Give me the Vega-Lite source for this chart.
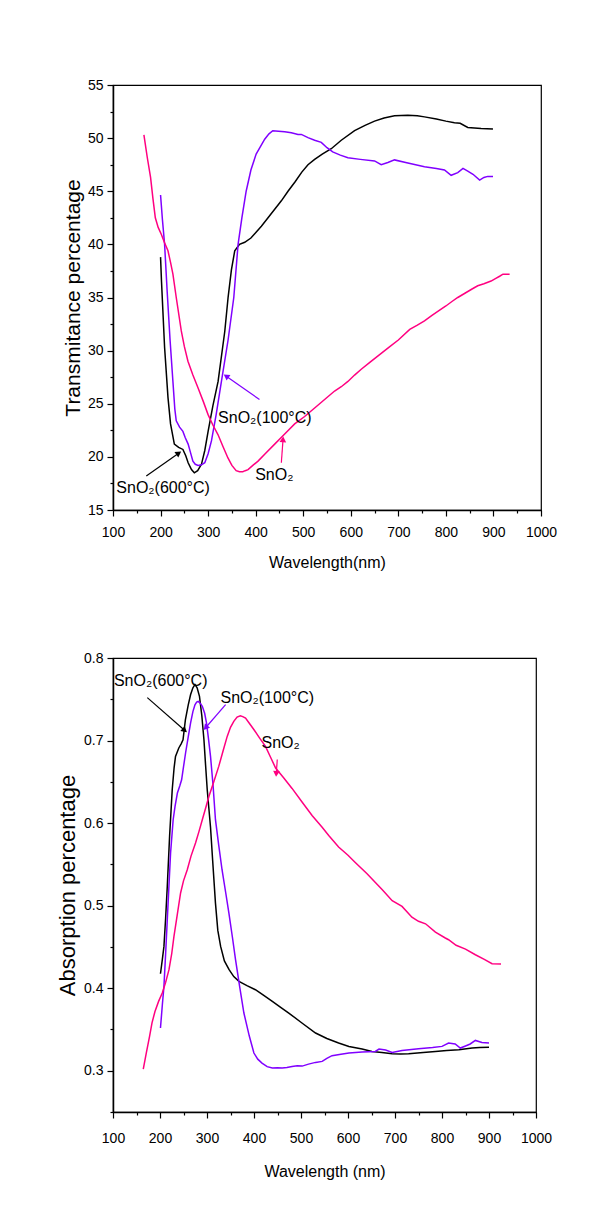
{
  "$schema": "https://vega.github.io/schema/vega-lite/v6.json",
  "background": "white",
  "padding": {"left": 55, "top": 77, "right": 5, "bottom": 5},
  "spacing": 79,
  "config": {
    "view": {"stroke": "black", "strokeWidth": 1.2},
    "axis": {
      "grid": false,
      "domainColor": "black",
      "domainWidth": 1.5,
      "tickColor": "black",
      "tickWidth": 1.2,
      "labelFont": "Liberation Sans Narrow, Arial Narrow, Liberation Sans, Arial",
      "labelFontSize": 14,
      "labelColor": "black",
      "titleFont": "Liberation Sans, Arial",
      "titleFontWeight": "normal",
      "titleColor": "black"
    }
  },
  "datasets": {
    "trans": [
      {"s": "600", "wl": 200, "v": 38.8}, {"s": "600", "wl": 202, "v": 36.5}, {"s": "600", "wl": 208.5, "v": 30.3}, {"s": "600", "wl": 215.6, "v": 25.6}, {"s": "600", "wl": 221, "v": 23.1}, {"s": "600", "wl": 229, "v": 21.2}, {"s": "600", "wl": 238, "v": 20.9}, {"s": "600", "wl": 247, "v": 20.7}, {"s": "600", "wl": 253, "v": 20.1}, {"s": "600", "wl": 258, "v": 19.45}, {"s": "600", "wl": 265, "v": 18.8}, {"s": "600", "wl": 271, "v": 18.5}, {"s": "600", "wl": 278, "v": 18.7}, {"s": "600", "wl": 286, "v": 19.3}, {"s": "600", "wl": 293, "v": 20.6}, {"s": "600", "wl": 300, "v": 22.4}, {"s": "600", "wl": 310, "v": 24.8}, {"s": "600", "wl": 321, "v": 27.1}, {"s": "600", "wl": 335, "v": 31.8}, {"s": "600", "wl": 342, "v": 35.0}, {"s": "600", "wl": 349, "v": 37.6}, {"s": "600", "wl": 356, "v": 39.4}, {"s": "600", "wl": 366, "v": 40.0}, {"s": "600", "wl": 377, "v": 40.2}, {"s": "600", "wl": 390, "v": 40.6}, {"s": "600", "wl": 398, "v": 41.0}, {"s": "600", "wl": 412, "v": 41.7}, {"s": "600", "wl": 426, "v": 42.5}, {"s": "600", "wl": 440, "v": 43.3}, {"s": "600", "wl": 454, "v": 44.1}, {"s": "600", "wl": 468, "v": 45.0}, {"s": "600", "wl": 483, "v": 45.9}, {"s": "600", "wl": 497, "v": 46.8}, {"s": "600", "wl": 510, "v": 47.5}, {"s": "600", "wl": 524, "v": 48.0}, {"s": "600", "wl": 540, "v": 48.5}, {"s": "600", "wl": 559, "v": 49.0}, {"s": "600", "wl": 580, "v": 49.8}, {"s": "600", "wl": 608, "v": 50.7}, {"s": "600", "wl": 630, "v": 51.2}, {"s": "600", "wl": 650, "v": 51.6}, {"s": "600", "wl": 670, "v": 51.9}, {"s": "600", "wl": 692, "v": 52.1}, {"s": "600", "wl": 720, "v": 52.15}, {"s": "600", "wl": 740, "v": 52.1}, {"s": "600", "wl": 755, "v": 52.0}, {"s": "600", "wl": 780, "v": 51.8}, {"s": "600", "wl": 800, "v": 51.6}, {"s": "600", "wl": 818, "v": 51.45}, {"s": "600", "wl": 830, "v": 51.4}, {"s": "600", "wl": 846, "v": 51.0}, {"s": "600", "wl": 860, "v": 50.95}, {"s": "600", "wl": 874, "v": 50.9}, {"s": "600", "wl": 899, "v": 50.85},
      {"s": "100", "wl": 200, "v": 44.65}, {"s": "100", "wl": 204, "v": 42.3}, {"s": "100", "wl": 208.5, "v": 40.0}, {"s": "100", "wl": 214, "v": 35.5}, {"s": "100", "wl": 220, "v": 31.0}, {"s": "100", "wl": 226, "v": 27.1}, {"s": "100", "wl": 230, "v": 24.5}, {"s": "100", "wl": 233, "v": 23.4}, {"s": "100", "wl": 240, "v": 22.8}, {"s": "100", "wl": 247, "v": 22.4}, {"s": "100", "wl": 252, "v": 21.8}, {"s": "100", "wl": 258, "v": 21.2}, {"s": "100", "wl": 263, "v": 20.4}, {"s": "100", "wl": 268, "v": 19.6}, {"s": "100", "wl": 273, "v": 19.3}, {"s": "100", "wl": 279, "v": 19.2}, {"s": "100", "wl": 286, "v": 19.25}, {"s": "100", "wl": 293, "v": 19.45}, {"s": "100", "wl": 300, "v": 20.3}, {"s": "100", "wl": 307, "v": 21.5}, {"s": "100", "wl": 317, "v": 24.0}, {"s": "100", "wl": 328, "v": 27.1}, {"s": "100", "wl": 342, "v": 31.0}, {"s": "100", "wl": 354, "v": 35.0}, {"s": "100", "wl": 363, "v": 40.0}, {"s": "100", "wl": 371, "v": 42.5}, {"s": "100", "wl": 380, "v": 45.0}, {"s": "100", "wl": 390, "v": 47.0}, {"s": "100", "wl": 401, "v": 48.5}, {"s": "100", "wl": 410, "v": 49.2}, {"s": "100", "wl": 419, "v": 49.9}, {"s": "100", "wl": 428, "v": 50.4}, {"s": "100", "wl": 436, "v": 50.7}, {"s": "100", "wl": 448, "v": 50.65}, {"s": "100", "wl": 461, "v": 50.6}, {"s": "100", "wl": 475, "v": 50.5}, {"s": "100", "wl": 489, "v": 50.35}, {"s": "100", "wl": 496, "v": 50.35}, {"s": "100", "wl": 510, "v": 50.05}, {"s": "100", "wl": 524, "v": 49.8}, {"s": "100", "wl": 538, "v": 49.6}, {"s": "100", "wl": 550, "v": 49.1}, {"s": "100", "wl": 562, "v": 48.7}, {"s": "100", "wl": 578, "v": 48.4}, {"s": "100", "wl": 594, "v": 48.15}, {"s": "100", "wl": 620, "v": 48.0}, {"s": "100", "wl": 650, "v": 47.85}, {"s": "100", "wl": 664, "v": 47.5}, {"s": "100", "wl": 678, "v": 47.7}, {"s": "100", "wl": 692, "v": 47.95}, {"s": "100", "wl": 720, "v": 47.65}, {"s": "100", "wl": 755, "v": 47.3}, {"s": "100", "wl": 780, "v": 47.15}, {"s": "100", "wl": 797, "v": 47.0}, {"s": "100", "wl": 811, "v": 46.5}, {"s": "100", "wl": 825, "v": 46.75}, {"s": "100", "wl": 836, "v": 47.15}, {"s": "100", "wl": 846, "v": 46.9}, {"s": "100", "wl": 857, "v": 46.6}, {"s": "100", "wl": 871, "v": 46.05}, {"s": "100", "wl": 880, "v": 46.3}, {"s": "100", "wl": 888, "v": 46.4}, {"s": "100", "wl": 899, "v": 46.4},
      {"s": "pure", "wl": 165, "v": 50.3}, {"s": "pure", "wl": 172, "v": 48.2}, {"s": "pure", "wl": 179, "v": 46.3}, {"s": "pure", "wl": 184, "v": 44.3}, {"s": "pure", "wl": 189, "v": 42.5}, {"s": "pure", "wl": 195, "v": 41.6}, {"s": "pure", "wl": 201.5, "v": 40.95}, {"s": "pure", "wl": 208, "v": 40.2}, {"s": "pure", "wl": 215.6, "v": 39.4}, {"s": "pure", "wl": 221, "v": 38.3}, {"s": "pure", "wl": 226, "v": 37.2}, {"s": "pure", "wl": 233, "v": 35.0}, {"s": "pure", "wl": 243.6, "v": 31.85}, {"s": "pure", "wl": 250, "v": 30.4}, {"s": "pure", "wl": 257.6, "v": 29.0}, {"s": "pure", "wl": 268, "v": 27.7}, {"s": "pure", "wl": 278.7, "v": 26.5}, {"s": "pure", "wl": 290, "v": 25.2}, {"s": "pure", "wl": 299.7, "v": 24.0}, {"s": "pure", "wl": 310, "v": 23.0}, {"s": "pure", "wl": 320.7, "v": 22.1}, {"s": "pure", "wl": 331, "v": 21.0}, {"s": "pure", "wl": 341.7, "v": 19.9}, {"s": "pure", "wl": 350, "v": 19.2}, {"s": "pure", "wl": 359, "v": 18.7}, {"s": "pure", "wl": 366, "v": 18.6}, {"s": "pure", "wl": 373, "v": 18.6}, {"s": "pure", "wl": 378, "v": 18.7}, {"s": "pure", "wl": 384, "v": 18.8}, {"s": "pure", "wl": 394, "v": 19.2}, {"s": "pure", "wl": 405, "v": 19.6}, {"s": "pure", "wl": 420, "v": 20.3}, {"s": "pure", "wl": 440, "v": 21.2}, {"s": "pure", "wl": 460, "v": 22.1}, {"s": "pure", "wl": 482, "v": 23.1}, {"s": "pure", "wl": 503, "v": 23.8}, {"s": "pure", "wl": 524, "v": 24.6}, {"s": "pure", "wl": 545, "v": 25.4}, {"s": "pure", "wl": 566, "v": 26.2}, {"s": "pure", "wl": 580, "v": 26.6}, {"s": "pure", "wl": 594, "v": 27.1}, {"s": "pure", "wl": 608, "v": 27.7}, {"s": "pure", "wl": 622, "v": 28.25}, {"s": "pure", "wl": 640, "v": 28.9}, {"s": "pure", "wl": 660, "v": 29.6}, {"s": "pure", "wl": 680, "v": 30.3}, {"s": "pure", "wl": 700, "v": 31.0}, {"s": "pure", "wl": 724, "v": 32.0}, {"s": "pure", "wl": 740, "v": 32.4}, {"s": "pure", "wl": 755, "v": 32.8}, {"s": "pure", "wl": 770, "v": 33.3}, {"s": "pure", "wl": 783, "v": 33.7}, {"s": "pure", "wl": 800, "v": 34.2}, {"s": "pure", "wl": 812, "v": 34.6}, {"s": "pure", "wl": 825, "v": 35.0}, {"s": "pure", "wl": 840, "v": 35.4}, {"s": "pure", "wl": 855, "v": 35.8}, {"s": "pure", "wl": 867, "v": 36.1}, {"s": "pure", "wl": 880, "v": 36.3}, {"s": "pure", "wl": 895, "v": 36.55}, {"s": "pure", "wl": 905, "v": 36.8}, {"s": "pure", "wl": 913, "v": 37.0}, {"s": "pure", "wl": 920, "v": 37.2}, {"s": "pure", "wl": 934, "v": 37.2}
    ],
    "abs": [
      {"s": "600", "wl": 201, "v": 0.4175}, {"s": "600", "wl": 205, "v": 0.435}, {"s": "600", "wl": 208.4, "v": 0.4506}, {"s": "600", "wl": 212, "v": 0.485}, {"s": "600", "wl": 215.5, "v": 0.5233}, {"s": "600", "wl": 220.4, "v": 0.5839}, {"s": "600", "wl": 226, "v": 0.6404}, {"s": "600", "wl": 230, "v": 0.667}, {"s": "600", "wl": 233, "v": 0.6808}, {"s": "600", "wl": 240, "v": 0.691}, {"s": "600", "wl": 245, "v": 0.696}, {"s": "600", "wl": 249, "v": 0.701}, {"s": "600", "wl": 254, "v": 0.725}, {"s": "600", "wl": 260, "v": 0.743}, {"s": "600", "wl": 265, "v": 0.7555}, {"s": "600", "wl": 270, "v": 0.764}, {"s": "600", "wl": 274.4, "v": 0.7677}, {"s": "600", "wl": 279, "v": 0.764}, {"s": "600", "wl": 284, "v": 0.7535}, {"s": "600", "wl": 289, "v": 0.73}, {"s": "600", "wl": 293.5, "v": 0.701}, {"s": "600", "wl": 297, "v": 0.67}, {"s": "600", "wl": 300.5, "v": 0.6404}, {"s": "600", "wl": 307.5, "v": 0.595}, {"s": "600", "wl": 312, "v": 0.555}, {"s": "600", "wl": 318, "v": 0.503}, {"s": "600", "wl": 323, "v": 0.47}, {"s": "600", "wl": 329, "v": 0.4506}, {"s": "600", "wl": 337, "v": 0.433}, {"s": "600", "wl": 347, "v": 0.4224}, {"s": "600", "wl": 357, "v": 0.414}, {"s": "600", "wl": 368, "v": 0.4082}, {"s": "600", "wl": 385, "v": 0.403}, {"s": "600", "wl": 403, "v": 0.3981}, {"s": "600", "wl": 420, "v": 0.3915}, {"s": "600", "wl": 439, "v": 0.384}, {"s": "600", "wl": 456, "v": 0.377}, {"s": "600", "wl": 474, "v": 0.3699}, {"s": "600", "wl": 502, "v": 0.3578}, {"s": "600", "wl": 531, "v": 0.3457}, {"s": "600", "wl": 555, "v": 0.339}, {"s": "600", "wl": 580, "v": 0.3336}, {"s": "600", "wl": 602, "v": 0.3294}, {"s": "600", "wl": 630, "v": 0.3263}, {"s": "600", "wl": 651, "v": 0.3234}, {"s": "600", "wl": 672, "v": 0.322}, {"s": "600", "wl": 694, "v": 0.3206}, {"s": "600", "wl": 712, "v": 0.3203}, {"s": "600", "wl": 729, "v": 0.3206}, {"s": "600", "wl": 760, "v": 0.322}, {"s": "600", "wl": 786, "v": 0.3234}, {"s": "600", "wl": 810, "v": 0.3245}, {"s": "600", "wl": 836, "v": 0.3254}, {"s": "600", "wl": 864, "v": 0.3275}, {"s": "600", "wl": 880, "v": 0.328}, {"s": "600", "wl": 900, "v": 0.3283},
      {"s": "100", "wl": 201, "v": 0.3517}, {"s": "100", "wl": 205, "v": 0.38}, {"s": "100", "wl": 208.4, "v": 0.4022}, {"s": "100", "wl": 212, "v": 0.442}, {"s": "100", "wl": 215.5, "v": 0.4829}, {"s": "100", "wl": 222.5, "v": 0.5637}, {"s": "100", "wl": 228, "v": 0.6041}, {"s": "100", "wl": 232, "v": 0.6202}, {"s": "100", "wl": 237, "v": 0.6364}, {"s": "100", "wl": 242, "v": 0.645}, {"s": "100", "wl": 246, "v": 0.6525}, {"s": "100", "wl": 250, "v": 0.668}, {"s": "100", "wl": 254.4, "v": 0.6849}, {"s": "100", "wl": 260, "v": 0.704}, {"s": "100", "wl": 265, "v": 0.7212}, {"s": "100", "wl": 270, "v": 0.735}, {"s": "100", "wl": 274.4, "v": 0.7434}, {"s": "100", "wl": 278, "v": 0.7465}, {"s": "100", "wl": 281.4, "v": 0.7474}, {"s": "100", "wl": 286, "v": 0.745}, {"s": "100", "wl": 290, "v": 0.7414}, {"s": "100", "wl": 295, "v": 0.733}, {"s": "100", "wl": 299, "v": 0.7212}, {"s": "100", "wl": 303, "v": 0.703}, {"s": "100", "wl": 307.5, "v": 0.6808}, {"s": "100", "wl": 313, "v": 0.645}, {"s": "100", "wl": 318, "v": 0.6041}, {"s": "100", "wl": 325, "v": 0.573}, {"s": "100", "wl": 332, "v": 0.5435}, {"s": "100", "wl": 340, "v": 0.515}, {"s": "100", "wl": 346.6, "v": 0.491}, {"s": "100", "wl": 354, "v": 0.462}, {"s": "100", "wl": 360.7, "v": 0.4345}, {"s": "100", "wl": 370, "v": 0.4}, {"s": "100", "wl": 378.5, "v": 0.3699}, {"s": "100", "wl": 390, "v": 0.342}, {"s": "100", "wl": 399.8, "v": 0.3214}, {"s": "100", "wl": 408, "v": 0.314}, {"s": "100", "wl": 417, "v": 0.3093}, {"s": "100", "wl": 428, "v": 0.305}, {"s": "100", "wl": 439, "v": 0.3033}, {"s": "100", "wl": 450, "v": 0.3035}, {"s": "100", "wl": 460, "v": 0.3033}, {"s": "100", "wl": 470, "v": 0.304}, {"s": "100", "wl": 481, "v": 0.3052}, {"s": "100", "wl": 492, "v": 0.306}, {"s": "100", "wl": 502.5, "v": 0.3056}, {"s": "100", "wl": 516, "v": 0.308}, {"s": "100", "wl": 531, "v": 0.3101}, {"s": "100", "wl": 545, "v": 0.3113}, {"s": "100", "wl": 555, "v": 0.315}, {"s": "100", "wl": 566, "v": 0.3182}, {"s": "100", "wl": 585, "v": 0.32}, {"s": "100", "wl": 602, "v": 0.3214}, {"s": "100", "wl": 630, "v": 0.3226}, {"s": "100", "wl": 658, "v": 0.3234}, {"s": "100", "wl": 666, "v": 0.3263}, {"s": "100", "wl": 680, "v": 0.325}, {"s": "100", "wl": 694, "v": 0.3222}, {"s": "100", "wl": 715, "v": 0.3246}, {"s": "100", "wl": 750, "v": 0.3267}, {"s": "100", "wl": 780, "v": 0.328}, {"s": "100", "wl": 800, "v": 0.3295}, {"s": "100", "wl": 814, "v": 0.3336}, {"s": "100", "wl": 828, "v": 0.3324}, {"s": "100", "wl": 839, "v": 0.3275}, {"s": "100", "wl": 850, "v": 0.33}, {"s": "100", "wl": 860, "v": 0.3324}, {"s": "100", "wl": 871, "v": 0.3367}, {"s": "100", "wl": 885, "v": 0.3343}, {"s": "100", "wl": 900, "v": 0.3336},
      {"s": "pure", "wl": 164.4, "v": 0.302}, {"s": "pure", "wl": 171, "v": 0.322}, {"s": "pure", "wl": 177.8, "v": 0.3416}, {"s": "pure", "wl": 183, "v": 0.358}, {"s": "pure", "wl": 189.3, "v": 0.3718}, {"s": "pure", "wl": 197, "v": 0.384}, {"s": "pure", "wl": 204.8, "v": 0.3941}, {"s": "pure", "wl": 212, "v": 0.407}, {"s": "pure", "wl": 219.1, "v": 0.4224}, {"s": "pure", "wl": 225, "v": 0.442}, {"s": "pure", "wl": 229.7, "v": 0.4627}, {"s": "pure", "wl": 237, "v": 0.49}, {"s": "pure", "wl": 243.8, "v": 0.5153}, {"s": "pure", "wl": 250, "v": 0.53}, {"s": "pure", "wl": 258, "v": 0.5435}, {"s": "pure", "wl": 266, "v": 0.56}, {"s": "pure", "wl": 275.6, "v": 0.5758}, {"s": "pure", "wl": 283, "v": 0.59}, {"s": "pure", "wl": 290, "v": 0.6041}, {"s": "pure", "wl": 297, "v": 0.618}, {"s": "pure", "wl": 304, "v": 0.6323}, {"s": "pure", "wl": 315, "v": 0.651}, {"s": "pure", "wl": 325, "v": 0.6687}, {"s": "pure", "wl": 334, "v": 0.687}, {"s": "pure", "wl": 343, "v": 0.705}, {"s": "pure", "wl": 350, "v": 0.716}, {"s": "pure", "wl": 357, "v": 0.7232}, {"s": "pure", "wl": 364, "v": 0.7285}, {"s": "pure", "wl": 371, "v": 0.7301}, {"s": "pure", "wl": 376, "v": 0.729}, {"s": "pure", "wl": 382, "v": 0.7273}, {"s": "pure", "wl": 390, "v": 0.721}, {"s": "pure", "wl": 400, "v": 0.7131}, {"s": "pure", "wl": 412, "v": 0.703}, {"s": "pure", "wl": 424.5, "v": 0.6929}, {"s": "pure", "wl": 435, "v": 0.68}, {"s": "pure", "wl": 446, "v": 0.6667}, {"s": "pure", "wl": 463, "v": 0.655}, {"s": "pure", "wl": 481, "v": 0.642}, {"s": "pure", "wl": 503, "v": 0.625}, {"s": "pure", "wl": 524, "v": 0.609}, {"s": "pure", "wl": 545, "v": 0.595}, {"s": "pure", "wl": 559, "v": 0.585}, {"s": "pure", "wl": 580, "v": 0.571}, {"s": "pure", "wl": 600, "v": 0.561}, {"s": "pure", "wl": 616, "v": 0.552}, {"s": "pure", "wl": 640, "v": 0.539}, {"s": "pure", "wl": 673, "v": 0.5193}, {"s": "pure", "wl": 694, "v": 0.506}, {"s": "pure", "wl": 715, "v": 0.4991}, {"s": "pure", "wl": 736, "v": 0.486}, {"s": "pure", "wl": 750, "v": 0.481}, {"s": "pure", "wl": 765, "v": 0.478}, {"s": "pure", "wl": 786, "v": 0.468}, {"s": "pure", "wl": 807, "v": 0.4608}, {"s": "pure", "wl": 814, "v": 0.4587}, {"s": "pure", "wl": 830, "v": 0.452}, {"s": "pure", "wl": 850, "v": 0.4474}, {"s": "pure", "wl": 871, "v": 0.4405}, {"s": "pure", "wl": 890, "v": 0.435}, {"s": "pure", "wl": 906.5, "v": 0.4296}, {"s": "pure", "wl": 925.6, "v": 0.4293}
    ],
    "tlabels": [
      {"label": "SnO₂(600°C)", "wl": 107, "v": 16.6},
      {"label": "SnO₂(100°C)", "wl": 321, "v": 23.2},
      {"label": "SnO₂", "wl": 399, "v": 17.8}
    ],
    "tarrows": [
      {"s": "600", "wl": 170, "v": 18.2, "wl2": 236.6, "v2": 20.3},
      {"s": "100", "wl": 408, "v": 25.4, "wl2": 339.6, "v2": 27.55},
      {"s": "pure", "wl": 454, "v": 19.45, "wl2": 457.4, "v2": 21.55}
    ],
    "blabels": [
      {"label": "SnO₂(600°C)", "wl": 102, "v": 0.7656},
      {"label": "SnO₂(100°C)", "wl": 328.8, "v": 0.7455},
      {"label": "SnO₂", "wl": 416, "v": 0.691}
    ],
    "barrows": [
      {"s": "600", "wl": 173, "v": 0.752, "wl2": 251, "v2": 0.713},
      {"s": "100", "wl": 339.6, "v": 0.7435, "wl2": 298.4, "v2": 0.7164},
      {"s": "pure", "wl": 449.5, "v": 0.677, "wl2": 447.5, "v2": 0.6607}
    ]
  },
  "vconcat": [
    {
      "width": 428,
      "height": 425,
      "encoding": {
        "x": {"field": "wl", "type": "quantitative",
          "scale": {"domain": [100, 1000], "nice": false, "zero": false},
          "axis": {"title": "Wavelength(nm)", "titleFontSize": 16, "titlePadding": 15,
            "values": [100,150,200,250,300,350,400,450,500,550,600,650,700,750,800,850,900,950,1000],
            "format": "d",
            "labelExpr": "datum.value % 100 === 0 ? datum.label : ''",
            "tickSize": {"condition": {"test": "datum.value % 100 === 0", "value": 6}, "value": 3},
            "labelPadding": 9, "labelFlush": false}},
        "y": {"field": "v", "type": "quantitative",
          "scale": {"domain": [15, 55], "nice": false, "zero": false},
          "axis": {"title": "Transmitance percentage", "titleFontSize": 21, "titlePadding": 4,
            "values": [15,17.5,20,22.5,25,27.5,30,32.5,35,37.5,40,42.5,45,47.5,50,52.5,55],
            "format": "d",
            "labelExpr": "datum.value % 5 === 0 ? datum.label : ''",
            "tickSize": {"condition": {"test": "datum.value % 5 === 0", "value": 6}, "value": 3},
            "labelPadding": 4, "labelFlush": false}}
      },
      "layer": [
        {"data": {"name": "trans"},
         "mark": {"type": "line", "strokeWidth": 1.5, "clip": false},
         "encoding": {"color": {"field": "s", "type": "nominal", "scale": {"domain": ["600", "100", "pure"], "range": ["#000000", "#8000FF", "#FF0080"]}, "legend": null}, "order": {"field": "wl", "type": "quantitative"}}},
        {"data": {"name": "tarrows"},
         "mark": {"type": "rule", "strokeWidth": 1.2},
         "encoding": {"x2": {"field": "wl2"}, "y2": {"field": "v2"}, "color": {"field": "s", "type": "nominal", "legend": null}}},
        {"data": {"name": "tarrows"}, "transform": [{"filter": "datum.s === '600'"}],
         "mark": {"type": "point", "shape": "triangle", "filled": true, "opacity": 1, "size": 45, "angle": 55},
         "encoding": {"x": {"field": "wl2"}, "y": {"field": "v2"}, "color": {"field": "s", "type": "nominal", "legend": null}}},
        {"data": {"name": "tarrows"}, "transform": [{"filter": "datum.s === '100'"}],
         "mark": {"type": "point", "shape": "triangle", "filled": true, "opacity": 1, "size": 45, "angle": 305},
         "encoding": {"x": {"field": "wl2"}, "y": {"field": "v2"}, "color": {"field": "s", "type": "nominal", "legend": null}}},
        {"data": {"name": "tarrows"}, "transform": [{"filter": "datum.s === 'pure'"}],
         "mark": {"type": "point", "shape": "triangle", "filled": true, "opacity": 1, "size": 45, "angle": 4},
         "encoding": {"x": {"field": "wl2"}, "y": {"field": "v2"}, "color": {"field": "s", "type": "nominal", "legend": null}}},
        {"data": {"name": "tlabels"},
         "mark": {"type": "text", "align": "left", "baseline": "alphabetic", "font": "Liberation Sans Narrow, Arial Narrow, Liberation Sans, Arial", "fontSize": 16, "color": "black"},
         "encoding": {"text": {"field": "label"}}}
      ]
    },
    {
      "width": 423,
      "height": 454,
      "encoding": {
        "x": {"field": "wl", "type": "quantitative",
          "scale": {"domain": [100, 1000], "nice": false, "zero": false},
          "axis": {"title": "Wavelength (nm)", "titleFontSize": 16, "titlePadding": 18,
            "values": [100,150,200,250,300,350,400,450,500,550,600,650,700,750,800,850,900,950,1000],
            "format": "d",
            "labelExpr": "datum.value % 100 === 0 ? datum.label : ''",
            "tickSize": {"condition": {"test": "datum.value % 100 === 0", "value": 6}, "value": 3},
            "labelPadding": 13, "labelFlush": false}},
        "y": {"field": "v", "type": "quantitative",
          "scale": {"domain": [0.25, 0.8], "nice": false, "zero": false},
          "axis": {"title": "Absorption percentage", "titleFontSize": 22, "titlePadding": 4,
            "values": [0.25,0.3,0.35,0.4,0.45,0.5,0.55,0.6,0.65,0.7,0.75,0.8],
            "format": ".1f",
            "labelExpr": "round(datum.value * 20) % 2 === 0 ? datum.label : ''",
            "tickSize": {"condition": {"test": "round(datum.value * 20) % 2 === 0", "value": 6}, "value": 3},
            "labelPadding": 4, "labelFlush": false}}
      },
      "layer": [
        {"data": {"name": "abs"},
         "mark": {"type": "line", "strokeWidth": 1.5, "clip": false},
         "encoding": {"color": {"field": "s", "type": "nominal", "scale": {"domain": ["600", "100", "pure"], "range": ["#000000", "#8000FF", "#FF0080"]}, "legend": null}, "order": {"field": "wl", "type": "quantitative"}}},
        {"data": {"name": "barrows"},
         "mark": {"type": "rule", "strokeWidth": 1.2},
         "encoding": {"x2": {"field": "wl2"}, "y2": {"field": "v2"}, "color": {"field": "s", "type": "nominal", "legend": null}}},
        {"data": {"name": "barrows"}, "transform": [{"filter": "datum.s === '600'"}],
         "mark": {"type": "point", "shape": "triangle", "filled": true, "opacity": 1, "size": 45, "angle": 131},
         "encoding": {"x": {"field": "wl2"}, "y": {"field": "v2"}, "color": {"field": "s", "type": "nominal", "legend": null}}},
        {"data": {"name": "barrows"}, "transform": [{"filter": "datum.s === '100'"}],
         "mark": {"type": "point", "shape": "triangle", "filled": true, "opacity": 1, "size": 45, "angle": 221},
         "encoding": {"x": {"field": "wl2"}, "y": {"field": "v2"}, "color": {"field": "s", "type": "nominal", "legend": null}}},
        {"data": {"name": "barrows"}, "transform": [{"filter": "datum.s === 'pure'"}],
         "mark": {"type": "point", "shape": "triangle", "filled": true, "opacity": 1, "size": 45, "angle": 184},
         "encoding": {"x": {"field": "wl2"}, "y": {"field": "v2"}, "color": {"field": "s", "type": "nominal", "legend": null}}},
        {"data": {"name": "blabels"},
         "mark": {"type": "text", "align": "left", "baseline": "alphabetic", "font": "Liberation Sans Narrow, Arial Narrow, Liberation Sans, Arial", "fontSize": 16, "color": "black"},
         "encoding": {"text": {"field": "label"}}}
      ]
    }
  ]
}
